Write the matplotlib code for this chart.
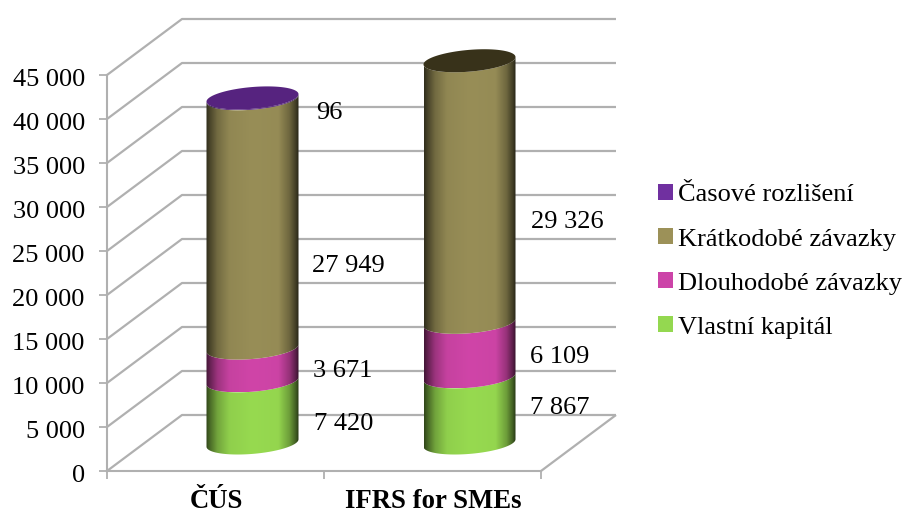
import numpy as np
import matplotlib
matplotlib.use("Agg")
import matplotlib.pyplot as plt
from matplotlib.patches import Polygon, Patch
from matplotlib.colors import to_rgb
from matplotlib.transforms import ScaledTranslation

plt.rcParams['font.family'] = ['Liberation Serif', 'DejaVu Serif']

# Balance sheet structure under two reporting frameworks
categories = ['ČÚS', 'IFRS for SMEs']
series_names = ['Vlastní kapitál', 'Dlouhodobé závazky', 'Krátkodobé závazky', 'Časové rozlišení']
vlastni_kapital = [7420, 7867]
dlouhodobe = [3671, 6109]
kratkodobe = [27949, 29326]
casove = [96, 0]
y_ticks = list(range(0, 45001, 5000))

body_colors = ['#97da50', '#d045a8', '#988e57', '#56237f']
legend_colors = ['#94d850', '#cc44a8', '#9c9158', '#7030a0']
cap_colors = ['#56237f', '#38321a']
GRID = '#b0b0b0'
W, H = 904, 513


def px_axes(left, right, bottom, top):
    return [left / W, 1 - bottom / H, (right - left) / W, (bottom - top) / H]


def thousands(v):
    return f'{v:,}'.replace(',', ' ')


fig = plt.figure(figsize=(W / 100, H / 100), dpi=100)

# Front plane of the box: real axis with ticks
ax = fig.add_axes(px_axes(107, 541, 471, 75))
ax.set_xlim(0, 2)
ax.set_ylim(0, 45000)
ax.patch.set_visible(False)
for side in ('top', 'right'):
    ax.spines[side].set_visible(False)
for side in ('left', 'bottom'):
    ax.spines[side].set_color(GRID)
    ax.spines[side].set_linewidth(1.5)
ax.set_yticks(y_ticks)
ax.set_yticklabels([thousands(v) for v in y_ticks], fontsize=19)
ax.set_xticks([0, 1, 2])
ax.set_xticklabels([])
ax.tick_params(axis='both', color=GRID, width=1.3, length=5.5)
ax.tick_params(axis='y', pad=10.5)
nudge = ScaledTranslation(0, -2 / 100, fig.dpi_scale_trans)
for lab in ax.get_yticklabels():
    lab.set_transform(lab.get_transform() + nudge)

# Walls and floor: lines run from the front plane to the back plane
depth_x = 75 * 2 / 434
depth_y = 56 * 45000 / 396
line_style = dict(color=GRID, lw=1.6, clip_on=False, solid_capstyle='butt')
for v in y_ticks:
    ax.plot([0, depth_x, 2 + depth_x], [v, v + depth_y, v + depth_y], **line_style)
ax.plot([2, 2 + depth_x], [0, depth_y], **line_style)

for i, name in enumerate(categories):
    ax.annotate(name, (i + 0.5, 0), xytext=(0.5, -30), textcoords='offset pixels',
                ha='center', va='center', fontsize=19.3, fontweight='bold',
                annotation_clip=False)

# Plane through the cylinder axes; the value range reaches below zero for the base curve
PX_PER_UNIT = 0.00892
FLOOR = -3000
cyl = fig.add_axes(px_axes(107 + 37, 541 + 37, 447 - FLOOR * PX_PER_UNIT,
                           447 - 45000 * PX_PER_UNIT))
cyl.axis('off')

px_x = 2 / 434
px_y = 1 / PX_PER_UNIT
semi_w = 46 * px_x
semi_h = 10.9 * px_y
tilt = 3.7 * px_y
base_lift = 4 * px_y

shade_pos = [0, .04, .12, .25, .5, .78, .9, .97, 1]
shade_val = [.32, .48, .75, .95, 1, .98, .72, .42, .25]
shade_x = np.linspace(0, 1, 200)
shade = np.interp(shade_x, shade_pos, shade_val)


def ellipse(center, value, t):
    return (center + semi_w * np.cos(t),
            value + semi_h * np.sin(t) + tilt * np.cos(t))


stack = np.array([vlastni_kapital, dlouhodobe, kratkodobe, casove], dtype=float)
tops = np.cumsum(stack, axis=0)
front = np.linspace(np.pi, 2 * np.pi, 80)
full = np.linspace(0, 2 * np.pi, 160)

cyl.set_xlim(0, 2)
cyl.set_ylim(FLOOR, 45000)
for i in range(len(categories)):
    center = i + 0.5
    for s in range(stack.shape[0]):
        if stack[s, i] <= 0:
            continue
        v0 = tops[s, i] - stack[s, i]
        v1 = tops[s, i]
        low = v0 + (base_lift if v0 == 0 else 0)
        xb, yb = ellipse(center, low, front)
        xt, yt = ellipse(center, v1, front[::-1])
        outline = np.column_stack([np.r_[xb, xt], np.r_[yb, yt]])
        clip = Polygon(outline, closed=True, transform=cyl.transData)
        img = np.outer(shade, to_rgb(body_colors[s])).reshape(1, -1, 3)
        im = cyl.imshow(img, aspect='auto', interpolation='bilinear',
                        extent=(center - semi_w, center + semi_w,
                                outline[:, 1].min(), outline[:, 1].max()))
        im.set_clip_path(clip)
    xc, yc = ellipse(center, tops[-1, i], full)
    cyl.fill(xc, yc, color=cap_colors[i], lw=0, zorder=5)
cyl.set_xlim(0, 2)
cyl.set_ylim(FLOOR, 45000)

# Value labels beside each segment (pixel offsets from the cylinder axis)
label_offsets = [
    [(91, -10), (90.5, -7), (96, -43), (77, -15)],
    [(90, 4), (90, -7), (98, -30), None],
]
for i in range(len(categories)):
    for s in range(stack.shape[0]):
        if stack[s, i] <= 0:
            continue
        mid = tops[s, i] - stack[s, i] / 2
        cyl.annotate(thousands(int(stack[s, i])), (i + 0.5, mid),
                     xytext=label_offsets[i][s], textcoords='offset pixels',
                     ha='center', va='center', fontsize=19, zorder=6,
                     annotation_clip=False)

handles = [Patch(facecolor=c, edgecolor='none') for c in legend_colors[::-1]]
fig.legend(handles, series_names[::-1], loc='upper left',
           bbox_to_anchor=(658 / W, 1 - 184 / H), frameon=False, fontsize=19,
           handlelength=0.57, handleheight=0.57, handletextpad=0.19,
           labelspacing=0.82, borderpad=0, borderaxespad=0)

fig.savefig('out.png', dpi=100)
